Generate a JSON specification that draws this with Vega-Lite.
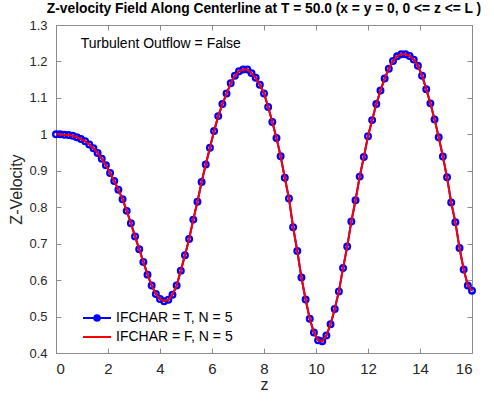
{
  "$schema": "https://vega.github.io/schema/vega-lite/v6.json",
  "width": 416,
  "height": 328,
  "autosize": "none",
  "padding": {"left": 56, "top": 25, "right": 22, "bottom": 48},
  "background": "white",
  "title": {"text": "Z-velocity Field Along Centerline at T = 50.0 (x = y = 0, 0 <= z <= L )", "font": "Liberation Sans", "fontSize": 13.8, "fontWeight": "bold", "color": "#000000", "anchor": "middle", "offset": 3},
  "config": {
    "view": {"stroke": "#8c8c8c", "strokeWidth": 1},
    "axis": {"domainColor": "#8c8c8c", "tickColor": "#8c8c8c", "labelColor": "#262626", "titleColor": "#262626", "labelFont": "Liberation Sans", "titleFont": "Liberation Sans", "labelFontSize": 13, "titleFontSize": 15, "titleFontWeight": "normal", "grid": false, "tickSize": -5, "labelPadding": 6}
  },
  "datasets": {
    "curve": [
      {"z": 0.00, "v": 1.000}, {"z": 0.16, "v": 1.000}, {"z": 0.32, "v": 0.999}, {"z": 0.48, "v": 0.998},
      {"z": 0.64, "v": 0.996}, {"z": 0.80, "v": 0.992}, {"z": 0.96, "v": 0.987}, {"z": 1.12, "v": 0.981},
      {"z": 1.28, "v": 0.972}, {"z": 1.44, "v": 0.962}, {"z": 1.60, "v": 0.949}, {"z": 1.76, "v": 0.933},
      {"z": 1.92, "v": 0.915}, {"z": 2.08, "v": 0.894}, {"z": 2.24, "v": 0.872}, {"z": 2.40, "v": 0.848},
      {"z": 2.56, "v": 0.822}, {"z": 2.72, "v": 0.790}, {"z": 2.88, "v": 0.756}, {"z": 3.04, "v": 0.720},
      {"z": 3.20, "v": 0.685}, {"z": 3.36, "v": 0.650}, {"z": 3.52, "v": 0.615}, {"z": 3.68, "v": 0.585},
      {"z": 3.84, "v": 0.562}, {"z": 4.00, "v": 0.548}, {"z": 4.16, "v": 0.542}, {"z": 4.32, "v": 0.546},
      {"z": 4.48, "v": 0.560}, {"z": 4.64, "v": 0.585}, {"z": 4.80, "v": 0.626}, {"z": 4.96, "v": 0.668},
      {"z": 5.12, "v": 0.713}, {"z": 5.28, "v": 0.766}, {"z": 5.44, "v": 0.815}, {"z": 5.60, "v": 0.869},
      {"z": 5.76, "v": 0.917}, {"z": 5.92, "v": 0.963}, {"z": 6.08, "v": 1.009}, {"z": 6.24, "v": 1.050},
      {"z": 6.40, "v": 1.083}, {"z": 6.56, "v": 1.112}, {"z": 6.72, "v": 1.140}, {"z": 6.88, "v": 1.161},
      {"z": 7.04, "v": 1.173}, {"z": 7.20, "v": 1.178}, {"z": 7.36, "v": 1.178}, {"z": 7.52, "v": 1.168},
      {"z": 7.68, "v": 1.155}, {"z": 7.84, "v": 1.136}, {"z": 8.00, "v": 1.112}, {"z": 8.16, "v": 1.075},
      {"z": 8.32, "v": 1.034}, {"z": 8.48, "v": 0.990}, {"z": 8.64, "v": 0.940}, {"z": 8.80, "v": 0.881},
      {"z": 8.96, "v": 0.824}, {"z": 9.12, "v": 0.745}, {"z": 9.28, "v": 0.680}, {"z": 9.44, "v": 0.607},
      {"z": 9.60, "v": 0.547}, {"z": 9.76, "v": 0.494}, {"z": 9.92, "v": 0.456}, {"z": 10.08, "v": 0.435},
      {"z": 10.24, "v": 0.432}, {"z": 10.40, "v": 0.448}, {"z": 10.56, "v": 0.479}, {"z": 10.72, "v": 0.521},
      {"z": 10.88, "v": 0.569}, {"z": 11.04, "v": 0.633}, {"z": 11.20, "v": 0.692}, {"z": 11.36, "v": 0.761},
      {"z": 11.52, "v": 0.819}, {"z": 11.68, "v": 0.884}, {"z": 11.84, "v": 0.938}, {"z": 12.00, "v": 0.995},
      {"z": 12.16, "v": 1.039}, {"z": 12.32, "v": 1.083}, {"z": 12.48, "v": 1.120}, {"z": 12.64, "v": 1.153},
      {"z": 12.80, "v": 1.180}, {"z": 12.96, "v": 1.201}, {"z": 13.12, "v": 1.214}, {"z": 13.28, "v": 1.220},
      {"z": 13.44, "v": 1.220}, {"z": 13.60, "v": 1.215}, {"z": 13.76, "v": 1.205}, {"z": 13.92, "v": 1.188},
      {"z": 14.08, "v": 1.161}, {"z": 14.24, "v": 1.124}, {"z": 14.40, "v": 1.085}, {"z": 14.56, "v": 1.041},
      {"z": 14.72, "v": 0.992}, {"z": 14.88, "v": 0.939}, {"z": 15.04, "v": 0.882}, {"z": 15.20, "v": 0.813},
      {"z": 15.36, "v": 0.759}, {"z": 15.52, "v": 0.688}, {"z": 15.68, "v": 0.629}, {"z": 15.84, "v": 0.585},
      {"z": 16.00, "v": 0.571}
    ]
  },
  "layer": [
    {
      "data": {"name": "curve"},
      "mark": {"type": "line", "strokeWidth": 2},
      "encoding": {
        "x": {"field": "z", "type": "quantitative", "scale": {"domain": [0, 16], "nice": false, "zero": false}, "axis": {"orient": "bottom", "values": [0, 2, 4, 6, 8, 10, 12, 14, 16], "title": "z", "titleFontSize": 16, "titlePadding": 0, "labelFontSize": 15, "labelPadding": 13}},
        "y": {"field": "v", "type": "quantitative", "scale": {"domain": [0.4, 1.3], "nice": false, "zero": false}, "axis": {"orient": "left", "values": [0.4, 0.5, 0.6, 0.7, 0.8, 0.9, 1.0, 1.1, 1.2, 1.3], "format": ".1~f", "title": "Z-Velocity", "titleFontSize": 16, "titlePadding": 4, "labelPadding": 14}},
        "color": {"datum": "IFCHAR = T, N = 5", "type": "nominal", "scale": {"domain": ["IFCHAR = T, N = 5", "IFCHAR = F, N = 5"], "range": ["#0000ff", "#ff0000"]},
          "legend": {"orient": "none", "legendX": 33, "legendY": 285, "title": null, "symbolSize": 196, "symbolStrokeWidth": 2, "labelFont": "Liberation Sans", "labelFontSize": 14, "labelColor": "#000000", "labelOffset": 11, "rowPadding": 4,
            "encode": {"symbols": {"update": {"shape": {"signal": "datum.value == 'IFCHAR = T, N = 5' ? 'M-2,0L2,0M-0.4,0A0.4,0.4 0 1,1 0.4,0A0.4,0.4 0 1,1 -0.4,0' : 'M-2,0L2,0'"}, "fill": {"signal": "datum.value == 'IFCHAR = T, N = 5' ? '#0000ff' : 'transparent'"}}}}}}
      }
    },
    {
      "data": {"name": "curve"},
      "mark": {"type": "point", "filled": false, "size": 32, "strokeWidth": 2.3, "opacity": 1},
      "encoding": {
        "x": {"field": "z", "type": "quantitative", "axis": null},
        "y": {"field": "v", "type": "quantitative", "axis": null},
        "color": {"datum": "IFCHAR = T, N = 5", "type": "nominal"}
      }
    },
    {
      "data": {"name": "curve"},
      "mark": {"type": "line", "strokeWidth": 2},
      "encoding": {
        "x": {"field": "z", "type": "quantitative", "axis": {"orient": "top", "values": [0, 2, 4, 6, 8, 10, 12, 14, 16], "labels": false, "title": null}},
        "y": {"field": "v", "type": "quantitative", "axis": {"orient": "right", "values": [0.4, 0.5, 0.6, 0.7, 0.8, 0.9, 1.0, 1.1, 1.2, 1.3], "labels": false, "title": null}},
        "color": {"datum": "IFCHAR = F, N = 5", "type": "nominal"}
      }
    },
    {
      "data": {"values": [{"note": "Turbulent Outflow = False"}]},
      "mark": {"type": "text", "align": "left", "baseline": "middle", "font": "Liberation Sans", "fontSize": 14, "color": "#000000"},
      "encoding": {
        "x": {"datum": 0.95, "axis": null},
        "y": {"datum": 1.248, "axis": null},
        "text": {"field": "note", "type": "nominal"}
      }
    }
  ]
}
